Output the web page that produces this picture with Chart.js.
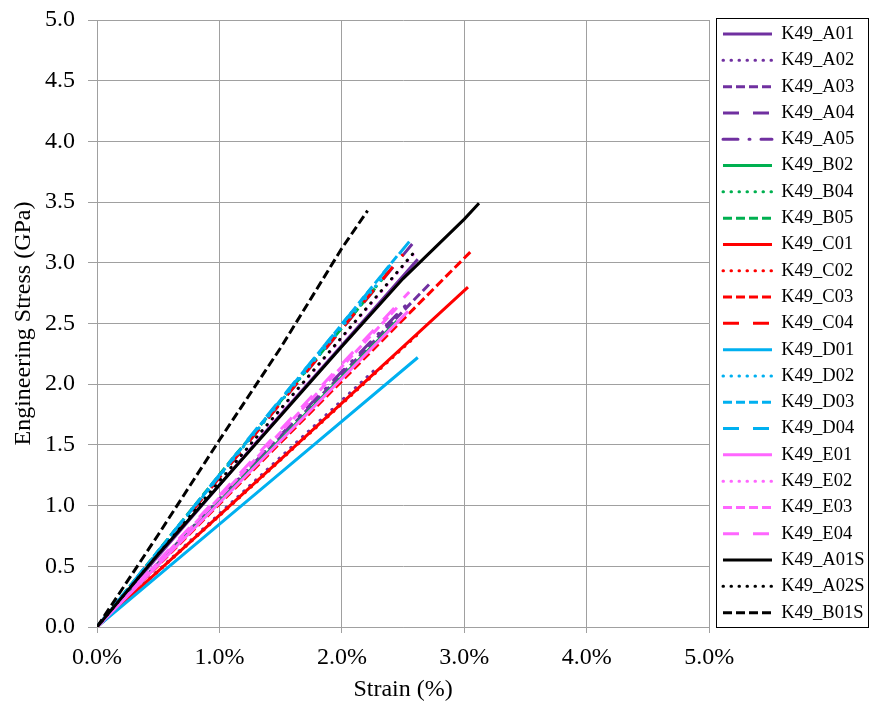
<!DOCTYPE html>
<html>
<head>
<meta charset="utf-8">
<script src="https://cdn.jsdelivr.net/npm/chart.js@4"></script>
<style>
  html, body { margin: 0; padding: 0; background: #fff; }
</style>
</head>
<body>
<canvas id="stressChart" width="873" height="707"></canvas>
<script>
// Stress-strain curves, [strain %, stress GPa]
const A01 = [[0, 0], [1.3, 1.52], [2.62, 3.03]];
const A02 = [[0, 0], [1.2, 1.12], [2.27, 2.12]];
const A03 = [[0, 0], [1.4, 1.46], [2.72, 2.83]];
const A04 = [[0, 0], [1.3, 1.60], [2.62, 3.21]];
const A05 = [[0, 0], [1.3, 1.37], [2.55, 2.68]];
const B02 = [[0, 0], [1.2, 1.24], [2.45, 2.52]];
const B04 = [[0, 0], [1.2, 1.49], [2.40, 2.95]];
const B05 = [[0, 0], [1.1, 1.38], [2.28, 2.80]];
const C01 = [[0, 0], [1.5, 1.38], [3.03, 2.80]];
const C02 = [[0, 0], [1.3, 1.19], [2.61, 2.40]];
const C03 = [[0, 0], [1.5, 1.52], [3.06, 3.10]];
const C04 = [[0, 0], [1.25, 1.54], [2.50, 3.07]];
const D01 = [[0, 0], [1.3, 1.10], [2.62, 2.22]];
const D02 = [[0, 0], [1.2, 1.49], [2.35, 2.90]];
const D03 = [[0, 0], [1.25, 1.56], [2.47, 3.08]];
const D04 = [[0, 0], [1.3, 1.63], [2.62, 3.26]];
const E01 = [[0, 0], [1.3, 1.33], [2.54, 2.60]];
const E02 = [[0, 0], [1.3, 1.55], [2.60, 3.09]];
const E03 = [[0, 0], [1.2, 1.28], [2.45, 2.63]];
const E04 = [[0, 0], [1.3, 1.41], [2.55, 2.76]];
const A01S = [[0, 0], [0.5, 0.6], [1.0, 1.17], [1.5, 1.74], [2.0, 2.31], [2.5, 2.87], [3.0, 3.36], [3.12, 3.49]];
const A02S = [[0, 0], [1.3, 1.56], [2.61, 3.11]];
const B01S = [[0, 0], [0.5, 0.76], [1.0, 1.54], [1.5, 2.30], [2.0, 3.12], [2.21, 3.43]];

const seriesNames = ["K49_A01", "K49_A02", "K49_A03", "K49_A04", "K49_A05",
  "K49_B02", "K49_B04", "K49_B05",
  "K49_C01", "K49_C02", "K49_C03", "K49_C04",
  "K49_D01", "K49_D02", "K49_D03", "K49_D04",
  "K49_E01", "K49_E02", "K49_E03", "K49_E04",
  "K49_A01S", "K49_A02S", "K49_B01S"];
const seriesData = [A01, A02, A03, A04, A05, B02, B04, B05, C01, C02, C03, C04,
  D01, D02, D03, D04, E01, E02, E03, E04, A01S, A02S, B01S];

const xTicks = [0, 1, 2, 3, 4, 5];
const yTicks = [0, 0.5, 1, 1.5, 2, 2.5, 3, 3.5, 4, 4.5, 5];

// styles
const purple = "#7030A0", green = "#00B050", red = "#FF0000", cyan = "#00B0F0", pink = "#FF66FF", black = "#000000";
const seriesColors = [purple, purple, purple, purple, purple, green, green, green,
  red, red, red, red, cyan, cyan, cyan, cyan, pink, pink, pink, pink, black, black, black];
const SOLID = "solid", DOT = "dot", DASH = "dash", LDASH = "ldash", LDD = "ldd";
const seriesStyles = [SOLID, DOT, DASH, LDASH, LDD, SOLID, DOT, DASH,
  SOLID, DOT, DASH, LDASH, SOLID, DOT, DASH, LDASH, SOLID, DOT, DASH, LDASH, SOLID, DOT, DASH];
const dashFor = {
  solid: [],
  dot: [0.5, 7.5],
  dash: [9, 4],
  ldash: [16, 14],
  ldd: [15, 11, 1, 11]
};

const LEGEND_FONT = 18.5;
const LEGEND_PAD = 7.8;

Chart.defaults.font.family = "'Liberation Serif', 'Times New Roman', serif";
Chart.defaults.color = "#000";

const datasets = seriesData.map((pts, i) => ({
  label: seriesNames[i],
  data: pts.map((p) => ({ x: p[0], y: p[1] })),
  showLine: true,
  borderColor: seriesColors[i],
  backgroundColor: seriesColors[i],
  borderWidth: 3,
  borderDash: dashFor[seriesStyles[i]],
  borderCapStyle: seriesStyles[i] === DOT || seriesStyles[i] === LDD ? "round" : "butt",
  pointRadius: 0,
  pointHoverRadius: 0,
  tension: 0,
  fill: false,
  order: seriesData.length - i
}));

// nudge the legend and draw its frame
const legendFrame = {
  id: "legendFrame",
  afterLayout(chart) {
    const lg = chart.legend;
    lg.left += 6;
    lg.right += 6;
    lg.top -= 3;
  },
  afterDraw(chart) {
    const lg = chart.legend;
    const ctx = chart.ctx;
    const top = Math.round(lg.top) + 1.5;
    const bottom = chart.chartArea.bottom + 0.5;
    ctx.save();
    ctx.strokeStyle = "#000";
    ctx.lineWidth = 1;
    ctx.setLineDash([]);
    ctx.strokeRect(Math.round(lg.left) + 1.5, top, 152, bottom - top);
    ctx.restore();
  }
};

const gridColor = "#a0a0a0";

new Chart(document.getElementById("stressChart"), {
  type: "scatter",
  data: { datasets: datasets },
  plugins: [legendFrame],
  options: {
    responsive: false,
    animation: false,
    layout: { padding: { top: 20, right: 4.5, bottom: 0, left: 5 } },
    plugins: {
      tooltip: { enabled: false },
      legend: {
        position: "right",
        align: "start",
        labels: {
          usePointStyle: true,
          pointStyle: "line",
          pointStyleWidth: 49,
          padding: LEGEND_PAD,
          color: "#000",
          font: { size: LEGEND_FONT },
          generateLabels: (chart) => chart.data.datasets.map((ds, i) => ({
            text: ds.label,
            fillStyle: ds.borderColor,
            strokeStyle: ds.borderColor,
            fontColor: "#000",
            lineWidth: 3,
            lineDash: ds.borderDash,
            lineCap: ds.borderCapStyle,
            pointStyle: "line",
            hidden: false,
            datasetIndex: i
          }))
        }
      }
    },
    scales: {
      x: {
        type: "linear",
        min: 0,
        max: 5,
        afterBuildTicks: (axis) => { axis.ticks = xTicks.map((v) => ({ value: v })); },
        afterFit: (axis) => { axis.height = 80; },
        ticks: {
          padding: 10,
          font: { size: 24 },
          color: "#000",
          callback: (v) => v.toFixed(1) + "%"
        },
        grid: { color: gridColor, lineWidth: 1, tickLength: 6 },
        border: { color: gridColor, width: 1 },
        title: { display: true, text: "Strain (%)", font: { size: 24 }, color: "#000", padding: { top: 4, bottom: 3 } }
      },
      y: {
        min: 0,
        max: 5,
        afterBuildTicks: (axis) => { axis.ticks = yTicks.map((v) => ({ value: v })); },
        afterFit: (axis) => {
          axis.width = 92;
          axis.paddingTop = 0;
          axis.paddingBottom = 0;
        },
        ticks: {
          padding: 13,
          font: { size: 24 },
          color: "#000",
          callback: (v) => v.toFixed(1)
        },
        grid: { color: gridColor, lineWidth: 1, tickLength: 9 },
        border: { color: gridColor, width: 1 },
        title: { display: true, text: "Engineering Stress (GPa)", font: { size: 24 }, color: "#000", padding: { top: 4, bottom: 8 } }
      }
    }
  }
});
</script>
</body>
</html>
